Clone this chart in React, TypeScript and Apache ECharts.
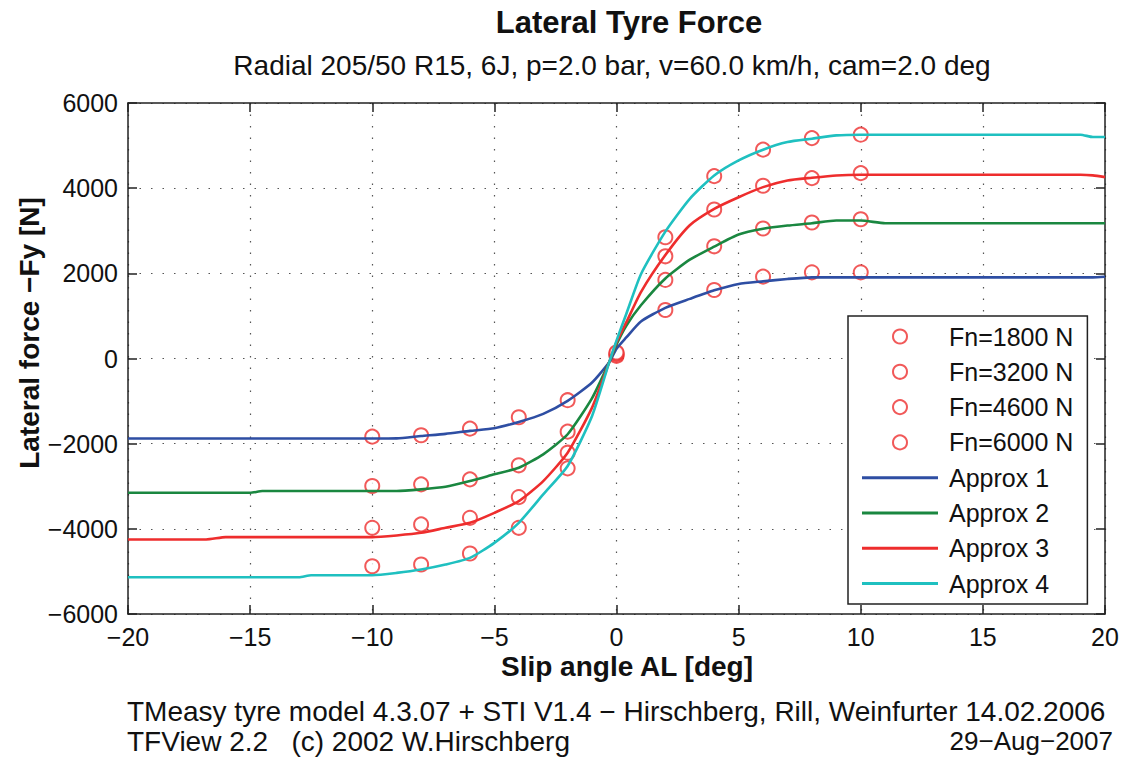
import React, { useEffect, useRef } from "react";
import * as echarts from "echarts";

// Measured points (slip angle in deg)
const MEAS_X = [-10, -8, -6, -4, -2, 0, 2, 4, 6, 8, 10];
const FN1800 = [-1835, -1802, -1647, -1379, -979, 60, 1139, 1609, 1922, 2024, 2024];
const FN3200 = [-2995, -2955, -2838, -2508, -1718, 90, 1845, 2635, 3052, 3193, 3271];
const FN4600 = [-3976, -3896, -3741, -3254, -2212, 120, 2400, 3499, 4056, 4235, 4353];
const FN6000 = [-4878, -4838, -4579, -3976, -2579, 140, 2847, 4282, 4904, 5176, 5256];

// Approximation curves
const LINE_X = [-20, -16.8, -16, -15, -14.5, -13, -12.5, -10, -9, -8, -7, -6, -5, -4, -3, -2, -1, -0.3, 0, 0.4, 1, 2, 3, 4, 5, 6, 7, 8, 9, 10, 11, 19, 19.5, 20];
const APPROX1 = [-1880, -1880, -1880, -1880, -1880, -1880, -1880, -1880, -1875, -1820, -1770, -1700, -1638, -1490, -1300, -995, -565, -90, 230, 494, 870, 1190, 1400, 1600, 1751, 1812, 1868, 1906, 1906, 1906, 1906, 1906, 1906, 1920];
const APPROX2 = [-3153, -3153, -3153, -3153, -3113, -3113, -3113, -3113, -3113, -3073, -3012, -2878, -2720, -2565, -2250, -1779, -930, -90, 330, 770, 1250, 1880, 2320, 2628, 2911, 3045, 3122, 3176, 3240, 3240, 3176, 3176, 3176, 3176];
const APPROX3 = [-4250, -4250, -4195, -4195, -4195, -4195, -4195, -4195, -4155, -4094, -3976, -3859, -3624, -3348, -2878, -2212, -1153, -90, 380, 847, 1560, 2430, 3130, 3515, 3788, 4024, 4181, 4245, 4299, 4315, 4315, 4315, 4300, 4259];
const APPROX4 = [-5136, -5136, -5136, -5136, -5136, -5136, -5089, -5089, -5035, -4955, -4838, -4682, -4329, -3859, -3191, -2525, -1350, -90, 420, 1045, 1980, 2980, 3750, 4299, 4652, 4904, 5082, 5162, 5240, 5256, 5256, 5256, 5200, 5200];

const MEAS_NAMES = ["Fn=1800 N", "Fn=3200 N", "Fn=4600 N", "Fn=6000 N"];
const APPROX_NAMES = ["Approx 1", "Approx 2", "Approx 3", "Approx 4"];
const LINE_COLORS = ["#2e4ea3", "#1a8740", "#ee2d2d", "#1fc0c0"];
const MARK_COLOR = "#ee3030";

const X_MIN = -20, X_MAX = 20, X_STEP = 5;
const Y_MIN = -6000, Y_MAX = 6000, Y_STEP = 2000;

const FONT = "'Liberation Sans', Arial, Helvetica, sans-serif";
const fmt = (v: number) => (v < 0 ? "\u2212" + Math.abs(v) : String(v));

export default function App() {
  const ref = useRef<HTMLDivElement>(null);
  useEffect(() => {
    if (!ref.current) return;
    const chart = echarts.init(ref.current, undefined, { renderer: "svg" });
    const meas = [FN1800, FN3200, FN4600, FN6000];
    const approx = [APPROX1, APPROX2, APPROX3, APPROX4];
    const axisCommon = {
      axisLine: { show: true, onZero: false, lineStyle: { color: "#222", width: 1.5 } },
      axisTick: { show: true, inside: true, length: 9, lineStyle: { color: "#222", width: 1.5 } },
    };
    const series: any[] = [];
    meas.forEach((arr, i) => {
      series.push({
        name: MEAS_NAMES[i],
        type: "scatter",
        symbol: "emptyCircle",
        symbolSize: 14,
        itemStyle: { color: MARK_COLOR, borderColor: MARK_COLOR, borderWidth: 1.3 },
        data: MEAS_X.map((x, j) => [x, arr[j]]),
        z: 2,
      });
    });
    approx.forEach((arr, i) => {
      series.push({
        name: APPROX_NAMES[i],
        type: "line",
        symbol: "none",
        showSymbol: false,
        smooth: 0.2,
        lineStyle: { color: LINE_COLORS[i], width: 2.6 },
        itemStyle: { color: LINE_COLORS[i] },
        data: LINE_X.map((x, j) => [x, arr[j]]),
        z: 3,
      });
    });
    const lineIcon = "path://M0,0 L100,0 L100,4 L0,4 Z";
    chart.setOption({
      animation: false,
      backgroundColor: "#ffffff",
      grid: { left: 128, right: 21, top: 103, bottom: 144, containLabel: false },
      xAxis: [
        {
          type: "value", min: X_MIN, max: X_MAX, interval: X_STEP, position: "bottom",
          ...axisCommon,
          axisLabel: { formatter: fmt, fontFamily: FONT, fontSize: 25, color: "#111", margin: 10 },
          splitLine: { show: true, lineStyle: { color: "#555", width: 1.2, type: [1.5, 10] } },
        },
        {
          type: "value", min: X_MIN, max: X_MAX, interval: X_STEP, position: "top",
          ...axisCommon, axisLabel: { show: false }, splitLine: { show: false },
        },
      ],
      yAxis: [
        {
          type: "value", min: Y_MIN, max: Y_MAX, interval: Y_STEP, position: "left",
          ...axisCommon,
          axisLabel: { formatter: fmt, fontFamily: FONT, fontSize: 25, color: "#111", margin: 10 },
          splitLine: { show: true, lineStyle: { color: "#555", width: 1.2, type: [1.5, 10] } },
        },
        {
          type: "value", min: Y_MIN, max: Y_MAX, interval: Y_STEP, position: "right",
          ...axisCommon, axisLabel: { show: false }, splitLine: { show: false },
        },
      ],
      legend: {
        orient: "vertical",
        left: 848,
        top: 316,
        data: [
          ...MEAS_NAMES.map((n) => ({ name: n })),
          ...APPROX_NAMES.map((n) => ({ name: n, icon: lineIcon })),
        ],
        itemWidth: 76,
        itemHeight: 14,
        itemGap: 10.3,
        padding: [8, 14, 8, 14],
        backgroundColor: "#ffffff",
        borderColor: "#222",
        borderWidth: 1.5,
        borderRadius: 0,
        textStyle: { fontFamily: FONT, fontSize: 25, color: "#111", padding: [0, 0, 0, 6] },
        selectedMode: false,
      },
      graphic: [
        {
          type: "text", x: 629, y: 22,
          style: { text: "Lateral Tyre Force", font: `bold 31px ${FONT}`, fill: "#111", textAlign: "center", textVerticalAlign: "middle" },
        },
        {
          type: "text", x: 612, y: 65,
          style: { text: "Radial 205/50 R15, 6J, p=2.0 bar, v=60.0 km/h, cam=2.0 deg", font: `28px ${FONT}`, fill: "#111", textAlign: "center", textVerticalAlign: "middle" },
        },
        {
          type: "text", x: 29, y: 333, rotation: Math.PI / 2,
          style: { text: "Lateral force \u2212Fy [N]", font: `bold 28px ${FONT}`, fill: "#111", textAlign: "center", textVerticalAlign: "middle" },
        },
        {
          type: "text", x: 627, y: 666,
          style: { text: "Slip angle AL [deg]", font: `bold 28px ${FONT}`, fill: "#111", textAlign: "center", textVerticalAlign: "middle" },
        },
        {
          type: "text", x: 127, y: 711,
          style: { text: "TMeasy tyre model 4.3.07 + STI V1.4 \u2212 Hirschberg, Rill, Weinfurter 14.02.2006", font: `28px ${FONT}`, fill: "#111", textAlign: "left", textVerticalAlign: "middle" },
        },
        {
          type: "text", x: 127, y: 741,
          style: { text: "TFView 2.2   (c) 2002 W.Hirschberg", font: `28px ${FONT}`, fill: "#111", textAlign: "left", textVerticalAlign: "middle" },
        },
        {
          type: "text", x: 1113, y: 741,
          style: { text: "29\u2212Aug\u22122007", font: `26px ${FONT}`, fill: "#111", textAlign: "right", textVerticalAlign: "middle" },
        },
      ],
      series,
    });
    return () => chart.dispose();
  }, []);
  return <div ref={ref} style={{ width: 1126, height: 758, position: "absolute", left: 0, top: 0 }} />;
}
